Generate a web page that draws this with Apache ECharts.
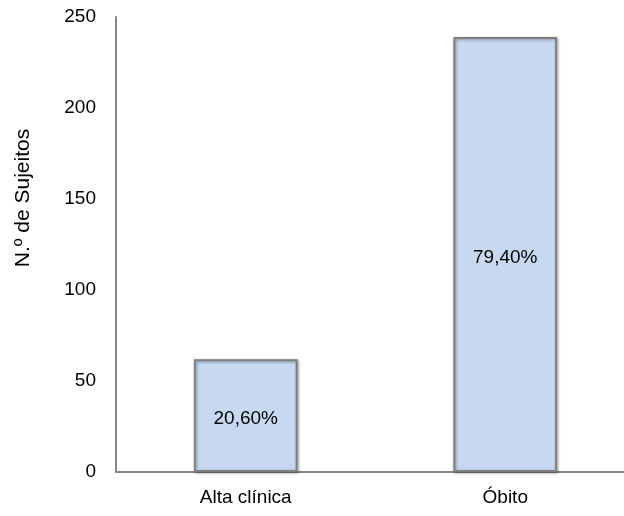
<!DOCTYPE html>
<html>
<head>
<meta charset="utf-8">
<script src="https://cdn.jsdelivr.net/npm/echarts@6/dist/echarts.min.js"></script>
<style>
  html, body { margin: 0; padding: 0; background: #fff; overflow: hidden; }
  /* plot area runs past the right edge of the window, so the canvas is a bit wider */
  #chart { width: 640px; height: 516px; }
</style>
</head>
<body>
<div id="chart"></div>
<script>
// Outcome categories and number of subjects in each
const categories = ['Alta clínica', 'Óbito'];
const subjects = [62, 239];
const percentLabels = ['20,60%', '79,40%'];
const yTicks = { min: 0, max: 250, interval: 50 };
const yTitle = 'N.º de Sujeitos';

const FONT = '"Liberation Sans", Arial, sans-serif';
const FS = 19;

const chart = echarts.init(document.getElementById('chart'), null, { renderer: 'canvas' });

chart.setOption({
  animation: false,
  grid: { left: 116, top: 17, width: 519, height: 455, containLabel: false },
  xAxis: {
    type: 'category',
    data: categories,
    axisLine: { lineStyle: { color: '#868686', width: 2 } },
    axisTick: { show: false },
    axisLabel: { color: '#000', fontFamily: FONT, fontSize: FS, margin: 16 }
  },
  yAxis: {
    type: 'value',
    min: yTicks.min,
    max: yTicks.max,
    interval: yTicks.interval,
    axisLine: { show: true, lineStyle: { color: '#868686', width: 2 } },
    axisTick: { show: false },
    splitLine: { show: false },
    axisLabel: { color: '#000', fontFamily: FONT, fontSize: FS, margin: 20 }
  },
  graphic: [{
    type: 'text',
    x: 23,
    y: 198,
    rotation: Math.PI / 2,
    style: {
      text: yTitle,
      fill: '#000',
      font: '21px ' + FONT,
      textAlign: 'center',
      textVerticalAlign: 'middle'
    }
  }],
  series: [{
    type: 'bar',
    data: subjects,
    barWidth: '40%',
    itemStyle: {
      color: '#c6d9f0',
      borderColor: '#7f7f7f',
      borderWidth: 2,
      shadowColor: 'rgba(0,0,0,0.35)',
      shadowBlur: 3,
      shadowOffsetX: 1,
      shadowOffsetY: 1
    },
    label: {
      show: true,
      position: 'inside',
      offset: [0, 3],
      color: '#000',
      fontFamily: FONT,
      fontSize: FS,
      formatter: p => percentLabels[p.dataIndex]
    }
  }]
});
</script>
</body>
</html>
